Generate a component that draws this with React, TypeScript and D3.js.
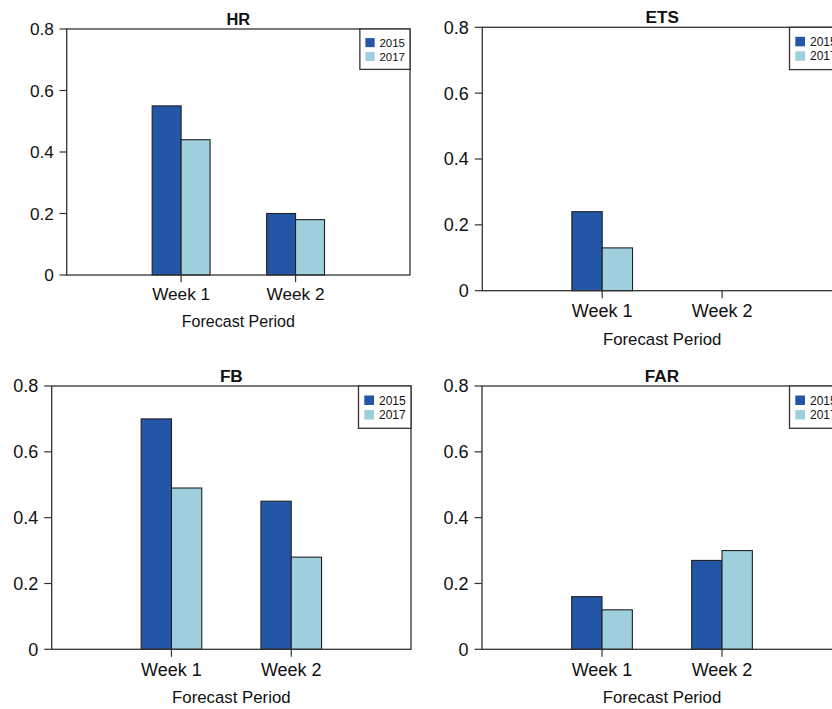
import React from 'react';
import * as d3 from 'd3';

const categories = ['Week 1', 'Week 2'];
const years = ['2015', '2017'];
const panelTitles = ['HR', 'ETS', 'FB', 'FAR'];
const hr2015 = [0.55, 0.2];
const hr2017 = [0.44, 0.18];
const ets2015 = [0.24, 0];
const ets2017 = [0.13, 0];
const fb2015 = [0.7, 0.45];
const fb2017 = [0.49, 0.28];
const far2015 = [0.16, 0.27];
const far2017 = [0.12, 0.3];
const yTicks = [0, 0.2, 0.4, 0.6, 0.8];
const yTickLabels = ['0', '0.2', '0.4', '0.6', '0.8'];
const xAxisTitle = 'Forecast Period';

const seriesByPanel = [
  [hr2015, hr2017],
  [ets2015, ets2017],
  [fb2015, fb2017],
  [far2015, far2017],
];

const colors = ['#2356a6', '#9ecfdc'];
const FONT = '"Liberation Sans", Arial, Helvetica, sans-serif';
const AX = '#333333';

// layout of each panel's plot box
const layouts = [
  { left: 66.7, top: 29, right: 410, bottom: 275, s: 0.955 },
  { left: 482.3, top: 27.3, right: 842, bottom: 290.7, s: 1 },
  { left: 51.7, top: 386, right: 411, bottom: 649.3, s: 1 },
  { left: 482, top: 386, right: 842, bottom: 649.3, s: 1 },
];

function Panel({ idx }: { idx: number }) {
  const L = layouts[idx];
  const s = L.s;
  const series = seriesByPanel[idx];
  const x = d3.scaleLinear().domain([0, 3]).range([L.left, L.right]);
  const y = d3.scaleLinear().domain([0, 0.8]).range([L.bottom, L.top]);
  const bw = 0.253;
  const cx = (i: number) => i + 1;
  const legW = 52.5 * s;
  const legH = 42.3 * s;
  const legL = L.right - legW;
  return (
    <g>
      {categories.map((c, ci) =>
        series.map((vals, si) => {
          const x0 = si === 0 ? x(cx(ci) - bw) : x(cx(ci));
          const x1 = si === 0 ? x(cx(ci)) : x(cx(ci) + bw);
          const v = vals[ci];
          return (
            <rect
              key={c + si}
              x={x0}
              y={y(v)}
              width={x1 - x0}
              height={y(0) - y(v)}
              fill={colors[si]}
              stroke="#222"
              strokeWidth={1.1}
            />
          );
        })
      )}
      <rect
        x={L.left}
        y={L.top}
        width={L.right - L.left}
        height={L.bottom - L.top}
        fill="none"
        stroke={AX}
        strokeWidth={1.3}
      />
      {yTicks.map((t, i) => (
        <g key={t}>
          <line x1={L.left - 7.5 * s} x2={L.left} y1={y(t)} y2={y(t)} stroke={AX} strokeWidth={1.2} />
          <text
            x={L.left - 13.5 * s}
            y={y(t)}
            dy="0.36em"
            textAnchor="end"
            fontFamily={FONT}
            fontSize={18 * s}
            fill="#111"
          >
            {yTickLabels[i]}
          </text>
        </g>
      ))}
      {categories.map((c, ci) => (
        <g key={c}>
          <line x1={x(cx(ci))} x2={x(cx(ci))} y1={L.bottom} y2={L.bottom + 7.5 * s} stroke={AX} strokeWidth={1.2} />
          <text
            x={x(cx(ci))}
            y={L.bottom + 26.5 * s}
            textAnchor="middle"
            fontFamily={FONT}
            fontSize={18 * s}
            fill="#111"
          >
            {c}
          </text>
        </g>
      ))}
      <text
        x={(L.left + L.right) / 2}
        y={L.bottom + 54 * s}
        textAnchor="middle"
        fontFamily={FONT}
        fontSize={16.8 * s}
        fill="#111"
      >
        {xAxisTitle}
      </text>
      <text
        x={(L.left + L.right) / 2}
        y={L.top - 4.5 * s}
        textAnchor="middle"
        fontFamily={FONT}
        fontSize={17.2 * s}
        fontWeight="bold"
        fill="#111"
      >
        {panelTitles[idx]}
      </text>
      <rect x={legL} y={L.top} width={legW} height={legH} fill="#fff" stroke={AX} strokeWidth={1.3} />
      {years.map((yr, i) => (
        <g key={yr}>
          <rect
            x={legL + 5.8 * s}
            y={L.top + (9.5 + 14.5 * i) * s}
            width={9.7 * s}
            height={9.5 * s}
            fill={colors[i]}
          />
          <text
            x={legL + 20.5 * s}
            y={L.top + (14.3 + 14.5 * i) * s}
            dy="0.36em"
            fontFamily={FONT}
            fontSize={12 * s}
            fill="#111"
          >
            {yr}
          </text>
        </g>
      ))}
    </g>
  );
}

export default function App() {
  return (
    <svg
      width={832}
      height={709}
      style={{ position: 'absolute', left: 0, top: 0, background: '#fff' }}
    >
      <rect x={0} y={0} width={832} height={709} fill="#fff" />
      {panelTitles.map((t, i) => (
        <Panel key={t} idx={i} />
      ))}
    </svg>
  );
}
